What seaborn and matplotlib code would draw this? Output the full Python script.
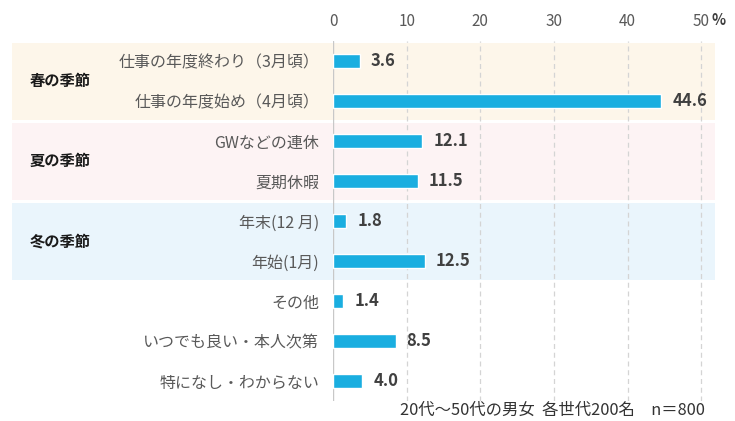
import matplotlib
matplotlib.use("Agg")
import matplotlib.pyplot as plt
import seaborn as sns
import pandas as pd
from matplotlib.patches import Rectangle
from matplotlib.transforms import blended_transform_factory

# データ
items = ['仕事の年度終わり（3月頃）', '仕事の年度始め（4月頃）', 'GWなどの連休', '夏期休暇',
         '年末(12 月)', '年始(1月)', 'その他', 'いつでも良い・本人次第', '特になし・わからない']
values = [3.6, 44.6, 12.1, 11.5, 1.8, 12.5, 1.4, 8.5, 4.0]
groups = ['春の季節', '夏の季節', '冬の季節']
group_rows = [0, 2, 4]
group_colors = ['#fdf6ea', '#fdf3f4', '#eaf5fc']
note = '20代～50代の男女  各世代200名　n＝800'

sns.set_style('white')
plt.rcParams['font.family'] = ['Noto Sans CJK JP', 'DejaVu Sans']

df = pd.DataFrame({'item': items, 'value': values})

fig = plt.figure(figsize=(7.35, 4.21), dpi=100)
ax = fig.add_axes([333 / 735, 1 - 401 / 421, (716 - 333) / 735, 360 / 421])
ax.patch.set_alpha(0)

sns.barplot(data=df, x='value', y='item', color='#1aaee0', width=0.36,
            saturation=1, ax=ax, zorder=3)

ax.set_xlim(0, 52)
ax.set_ylim(8.5, -0.5)

# 背景帯
trans = blended_transform_factory(fig.transFigure, ax.transData)
for g, r, c in zip(groups, group_rows, group_colors):
    ax.add_patch(Rectangle((12 / 735, r - 0.45), (715 - 12) / 735, 1.93,
                           transform=trans, facecolor=c, edgecolor='none',
                           clip_on=False, zorder=0))
    ax.text(30 / 735, r + 0.5, g, transform=trans, ha='left', va='center',
            fontsize=11, fontweight='bold', color='#1a1a1a', zorder=4)

# グリッド
for xv in [10, 20, 30, 40, 50]:
    ax.axvline(xv, color='#d4d4d4', lw=0.9, ls=(0, (4, 3)), zorder=1)
ax.axvline(0, color='#c8c8c8', lw=1, zorder=1)

# 値ラベル
for i, v in enumerate(values):
    ax.text(v + 1.5, i, f'{v:.1f}', va='center', ha='left', fontsize=12,
            fontweight='bold', color='#404040', zorder=4)

ax.xaxis.tick_top()
ax.set_xticks([0, 10, 20, 30, 40, 50])
ax.tick_params(axis='x', length=0, pad=8, labelsize=11, labelcolor='#595959')
ax.tick_params(axis='y', length=0, pad=10, labelsize=11.5, labelcolor='#595959')
ax.set_xlabel('')
ax.set_ylabel('')
sns.despine(ax=ax, left=True, bottom=True, top=True, right=True)

fig.text(719 / 735, 1 - 20 / 421, '%', ha='center', va='center', fontsize=10.5,
         fontweight='bold', color='#404040')
fig.text(705 / 735, 1 - 410 / 421, note, ha='right', va='center', fontsize=11.8,
         color='#333333')

fig.savefig('out.png', dpi=100)
